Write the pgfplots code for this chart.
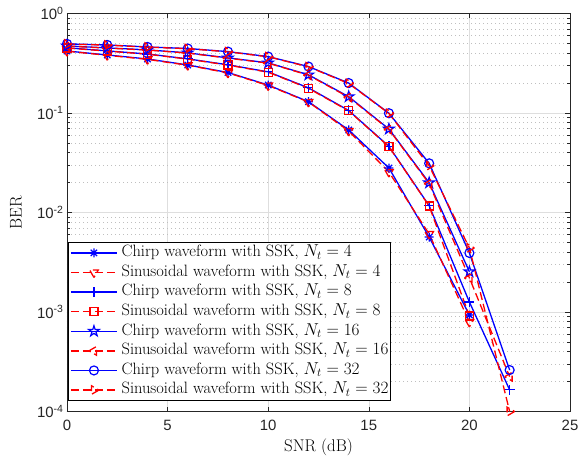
\documentclass[border=0pt]{standalone}
\usepackage{fontspec}
\usepackage{pgfplots}
\pgfplotsset{compat=1.18}
\newfontfamily\tickfont{Liberation Sans}
\definecolor{gridgray}{gray}{0.87}
\definecolor{axgray}{gray}{0.15}

% five-pointed outline star, like MATLAB's pentagram
\pgfdeclareplotmark{pentagram}{%
  \pgfpathmoveto{\pgfpointpolar{90}{\pgfplotmarksize}}%
  \pgfpathlineto{\pgfpointpolar{126}{0.382\pgfplotmarksize}}%
  \pgfpathlineto{\pgfpointpolar{162}{\pgfplotmarksize}}%
  \pgfpathlineto{\pgfpointpolar{198}{0.382\pgfplotmarksize}}%
  \pgfpathlineto{\pgfpointpolar{234}{\pgfplotmarksize}}%
  \pgfpathlineto{\pgfpointpolar{270}{0.382\pgfplotmarksize}}%
  \pgfpathlineto{\pgfpointpolar{306}{\pgfplotmarksize}}%
  \pgfpathlineto{\pgfpointpolar{342}{0.382\pgfplotmarksize}}%
  \pgfpathlineto{\pgfpointpolar{18}{\pgfplotmarksize}}%
  \pgfpathlineto{\pgfpointpolar{54}{0.382\pgfplotmarksize}}%
  \pgfpathclose\pgfusepathqstroke}
% eight-spoke asterisk, like MATLAB's *
\pgfdeclareplotmark{ast8}{%
  \pgfpathmoveto{\pgfqpoint{-\pgfplotmarksize}{0pt}}\pgfpathlineto{\pgfqpoint{\pgfplotmarksize}{0pt}}%
  \pgfpathmoveto{\pgfqpoint{0pt}{-\pgfplotmarksize}}\pgfpathlineto{\pgfqpoint{0pt}{\pgfplotmarksize}}%
  \pgfpathmoveto{\pgfpointpolar{45}{\pgfplotmarksize}}\pgfpathlineto{\pgfpointpolar{225}{\pgfplotmarksize}}%
  \pgfpathmoveto{\pgfpointpolar{135}{\pgfplotmarksize}}\pgfpathlineto{\pgfpointpolar{315}{\pgfplotmarksize}}%
  \pgfusepathqstroke}

\pgfplotsset{
  chirp/.style={color=blue, draw=blue, solid, line width=1.3bp,
    mark options={solid, draw=blue, fill=none, line width=1.2bp}},
  sinus/.style={color=red, draw=red, dash pattern=on 8bp off 4bp, line width=1.3bp,
    mark options={solid, draw=red, fill=none, line width=1.2bp}},
}

\begin{document}
\begin{tikzpicture}
\begin{semilogyaxis}[
  at={(0,0)}, anchor=south west,
  scale only axis, width=503bp, height=398bp,
  xmin=0, xmax=25, ymin=1e-4, ymax=1,
  xtick={0,5,10,15,20,25},
  xticklabels={0,5,10,15,20,25},
  ytick={1e-4,1e-3,1e-2,1e-1,1},
  yticklabels={10\textsuperscript{-4},10\textsuperscript{-3},10\textsuperscript{-2},10\textsuperscript{-1},10\textsuperscript{0}},
  tick label style={font=\tickfont\fontsize{15}{18}\selectfont, text=axgray},
  xticklabel style={yshift=-5bp},
  tick align=inside,
  major tick length=5bp, minor tick length=3bp,
  axis line style={draw=axgray, line width=0.6bp},
  every tick/.style={draw=axgray, line width=0.6bp},
  xmajorgrids, ymajorgrids, yminorgrids,
  major grid style={draw=gridgray, line width=0.6bp},
  minor grid style={draw=gray!50, dash pattern=on 1bp off 3bp, line width=0.6bp},
  legend style={at={(0.002,0.027)}, anchor=south west,
    font=\fontsize{16.5}{19}\selectfont, draw=black, line width=0.6bp,
    fill=white, inner sep=2bp, row sep=2.8bp, column sep=4bp,
    nodes={inner sep=0bp, text height=12.3bp, text depth=4.5bp}},
  legend cell align=left,
  legend image code/.code={\draw[mark repeat=2, mark phase=2, #1] plot coordinates {(0bp,0bp) (23bp,0bp) (46bp,0bp)};},
]
\addplot[chirp, mark=ast8, mark size=4.5bp] coordinates {
(0,0.420)(2,0.383)(4,0.349)(6,0.304)(8,0.255)(10,0.191)(12,0.130)(14,0.0675)(16,0.0280)(18,0.00567)(20,0.000933)};
\addlegendentry{Chirp waveform with SSK, $N_t = 4$}
\addplot[sinus, mark=triangle, mark size=5bp, mark options={rotate=180}] coordinates {
(0,0.418)(2,0.380)(4,0.346)(6,0.302)(8,0.253)(10,0.189)(12,0.129)(14,0.066)(16,0.0255)(18,0.00608)(20,0.000794)};
\addlegendentry{Sinusoidal waveform with SSK, $N_t = 4$}
\addplot[chirp, mark=+, mark size=5bp] coordinates {
(0,0.452)(2,0.421)(4,0.392)(6,0.350)(8,0.305)(10,0.259)(12,0.179)(14,0.106)(16,0.0462)(18,0.0117)(20,0.00126)(22,0.000165)};
\addlegendentry{Chirp waveform with SSK, $N_t = 8$}
\addplot[sinus, mark=square, mark size=4bp] coordinates {
(0,0.450)(2,0.419)(4,0.390)(6,0.348)(8,0.303)(10,0.257)(12,0.177)(14,0.105)(16,0.0459)(18,0.0116)(20,0.000912)};
\addlegendentry{Sinusoidal waveform with SSK, $N_t = 8$}
\addplot[chirp, mark=pentagram, mark size=5.5bp] coordinates {
(0,0.472)(2,0.451)(4,0.431)(6,0.402)(8,0.358)(10,0.319)(12,0.242)(14,0.146)(16,0.0690)(18,0.0199)(20,0.00254)};
\addlegendentry{Chirp waveform with SSK, $N_t = 16$}
\addplot[sinus, mark=triangle, mark size=5bp, mark options={rotate=90}] coordinates {
(0,0.470)(2,0.449)(4,0.429)(6,0.400)(8,0.356)(10,0.317)(12,0.240)(14,0.144)(16,0.0683)(18,0.0195)(20,0.00220)(22,0.000224)};
\addlegendentry{Sinusoidal waveform with SSK, $N_t = 16$}
\addplot[chirp, mark=o, mark size=4.5bp] coordinates {
(0,0.495)(2,0.483)(4,0.461)(6,0.445)(8,0.414)(10,0.369)(12,0.293)(14,0.200)(16,0.0995)(18,0.0312)(20,0.00392)(22,0.000261)};
\addlegendentry{Chirp waveform with SSK, $N_t = 32$}
\addplot[sinus, mark=triangle, mark size=5bp, mark options={rotate=270}] coordinates {
(0,0.493)(2,0.481)(4,0.459)(6,0.443)(8,0.412)(10,0.367)(12,0.291)(14,0.198)(16,0.099)(18,0.0295)(20,0.00440)(22,0.0001)};
\addlegendentry{Sinusoidal waveform with SSK, $N_t = 32$}
\end{semilogyaxis}
\node[font=\fontsize{17}{20}\selectfont] at (251.5bp,-35.5bp) {SNR (dB)};
\node[font=\fontsize{17}{20}\selectfont, rotate=90] at (-51bp,199bp) {BER};
\pgfresetboundingbox
\path[use as bounding box] (-67bp,-47.3bp) rectangle (511bp,411.5bp);
\end{tikzpicture}
\end{document}
